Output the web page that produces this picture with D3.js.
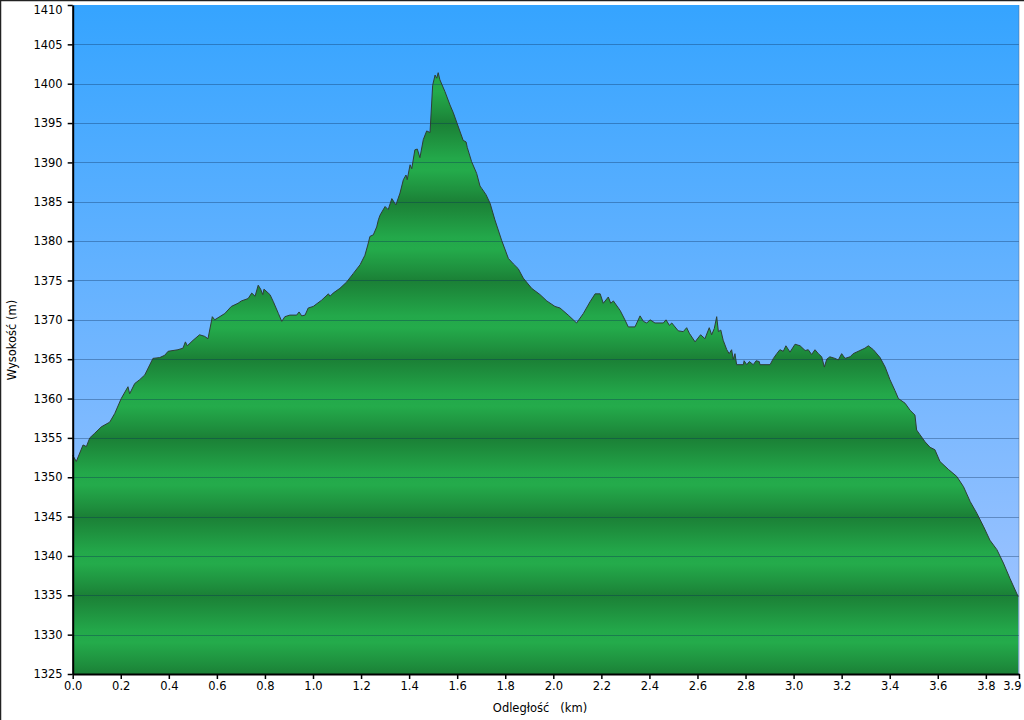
<!DOCTYPE html>
<html><head><meta charset="utf-8">
<script src="https://cdn.jsdelivr.net/npm/d3@7"></script>
<style>
body{margin:0;background:#fff}
svg{display:block}
text{font-family:"DejaVu Sans",Verdana,sans-serif}
</style>
</head><body>
<svg id="chart" width="1024" height="720"></svg>
<script>
// ---- data ----
const distanceKm = [0.000,0.015,0.043,0.057,0.071,0.092,0.119,0.154,0.175,0.202,0.230,0.237,0.258,0.279,0.300,0.334,0.362,0.383,0.397,0.438,0.459,0.469,0.477,0.501,0.528,0.549,0.563,0.581,0.591,0.633,0.660,0.688,0.702,0.730,
0.745,0.759,0.772,0.782,0.791,0.796,0.821,0.835,0.856,0.870,0.883,0.904,0.932,0.942,0.953,0.967,0.980,1.001,1.036,1.064,1.071,1.084,1.112,1.140,1.168,1.196,1.216,1.228,1.237,1.251,1.265,1.272,1.279,
1.300,1.313,1.328,1.345,1.362,1.376,1.387,1.392,1.404,1.411,1.424,1.434,1.445,1.459,1.473,1.487,1.498,1.508,1.515,1.521,1.528,1.549,1.570,1.584,1.605,1.625,1.637,1.642,1.660,1.681,1.695,1.702,1.720,1.737,1.757,1.785,1.813,1.834,1.854,1.875,1.910,1.945,1.973,
2.007,2.028,2.062,2.097,2.125,2.153,2.174,2.195,2.208,2.229,2.239,2.250,2.278,2.298,2.312,2.340,2.361,2.375,2.389,2.403,2.423,2.458,2.469,2.483,2.493,2.520,2.541,2.555,2.566,2.590,2.613,2.631,2.649,2.659,2.670,2.680,2.687,2.697,2.707,2.722,2.732,2.742,2.749,2.756,2.763,
2.791,2.794,2.805,2.816,2.832,2.844,2.857,2.860,2.902,2.916,2.930,2.943,2.957,2.968,2.985,3.006,3.027,3.048,3.061,3.075,3.089,3.103,3.117,3.128,3.138,3.151,3.172,3.186,3.200,3.214,3.235,3.248,3.276,3.297,3.311,3.332,3.360,3.381,3.401,3.422,3.436,
3.464,3.485,3.505,3.512,3.526,3.547,3.568,3.588,3.609,3.644,3.679,3.707,3.735,3.763,3.791,3.817,3.846,3.873,3.901,3.935];
const elevationM = [1352.8,1352.0,1354.1,1353.9,1355.0,1355.6,1356.4,1357.0,1358.1,1360.0,1361.5,1360.6,1361.9,1362.4,1363.0,1365.1,1365.2,1365.5,1366.0,1366.2,1366.4,1367.2,1366.7,1367.4,1368.1,1367.9,1367.6,1370.4,1370.0,1370.8,1371.7,1372.1,1372.4,1372.7,
1373.4,1373.0,1374.4,1373.9,1373.2,1373.9,1373.2,1372.3,1370.8,1369.8,1370.4,1370.6,1370.6,1371.0,1370.5,1370.6,1371.5,1371.7,1372.5,1373.3,1373.0,1373.4,1374.0,1374.8,1375.9,1377.0,1378.2,1379.5,1380.6,1380.8,1381.8,1382.7,1383.3,
1384.4,1384.0,1385.4,1384.6,1386.1,1387.8,1388.4,1387.8,1389.7,1389.2,1391.6,1391.7,1390.6,1392.9,1394.0,1393.8,1399.8,1401.1,1400.7,1401.4,1400.5,1399.0,1397.3,1396.3,1394.5,1392.8,1392.6,1391.9,1390.1,1388.6,1387.0,1386.7,1385.9,1384.8,1382.7,1380.1,1377.8,1377.1,1376.5,1375.3,1374.0,1373.2,1372.4,
1371.7,1371.5,1370.6,1369.6,1370.8,1372.3,1373.3,1373.3,1372.1,1372.9,1372.1,1372.4,1371.2,1370.0,1369.1,1369.1,1370.5,1369.8,1369.6,1370.0,1369.6,1369.6,1370.0,1369.3,1369.6,1368.6,1368.5,1369.0,1368.3,1367.2,1368.1,1367.6,1369.0,1368.1,1368.9,1370.4,1368.5,1368.7,1367.4,1366.2,1365.7,1366.2,1365.0,1365.7,1364.3,
1364.3,1364.8,1364.3,1364.7,1364.3,1364.8,1364.7,1364.3,1364.3,1365.1,1365.7,1366.2,1366.0,1366.7,1365.9,1366.9,1366.7,1366.1,1366.2,1365.6,1366.2,1365.7,1365.3,1364.0,1365.0,1365.3,1365.1,1364.9,1365.7,1365.1,1365.3,1365.7,1366.1,1366.4,1366.7,1366.2,1365.2,1364.0,1362.4,1361.0,1360.0,
1359.4,1358.5,1357.9,1356.0,1355.4,1354.5,1353.8,1353.5,1352.0,1351.0,1350.1,1348.8,1346.9,1345.4,1343.7,1342.0,1340.8,1339.1,1337.1,1334.8];
const yTickValues = [1325,1330,1335,1340,1345,1350,1355,1360,1365,1370,1375,1380,1385,1390,1395,1400,1405,1410];
const xTickValues = [0,0.2,0.4,0.6,0.8,1.0,1.2,1.4,1.6,1.8,2.0,2.2,2.4,2.6,2.8,3.0,3.2,3.4,3.6,3.8,3.938];
const xTickLabels = ["0.0","0.2","0.4","0.6","0.8","1.0","1.2","1.4","1.6","1.8","2.0","2.2","2.4","2.6","2.8","3.0","3.2","3.4","3.6","3.8","3.9"];
const xTitle = "Odległość   (km)";
const yTitle = "Wysokość (m)";

// ---- layout ----
const svg = d3.select("#chart");
const pL = 72.7, pR = 1019, pT = 5, pB = 674;
const x = d3.scaleLinear().domain([0, 3.938]).range([pL, pR]);
const y = d3.scaleLinear().domain([1325, 1410]).range([pB, pT]);
const data = distanceKm.map((d, i) => ({d, e: elevationM[i]}));

const defs = svg.append("defs");
const bg = defs.append("linearGradient").attr("id", "bg").attr("x1", 0).attr("y1", 0).attr("x2", 0).attr("y2", 1);
bg.append("stop").attr("offset", 0).attr("stop-color", "#35a4ff");
bg.append("stop").attr("offset", 1).attr("stop-color", "#a8c6ff");

const gr = defs.append("linearGradient").attr("id", "green")
  .attr("gradientUnits", "userSpaceOnUse").attr("spreadMethod", "repeat")
  .attr("x1", 0).attr("x2", 0).attr("y1", y(1335)).attr("y2", y(1325));
[[0, "#1b8036"], [0.12, "#1d8a3b"], [0.45, "#23a84a"], [0.6, "#24ab4b"], [0.88, "#1e8e3d"], [1, "#1b8036"]]
  .forEach(([o, c]) => gr.append("stop").attr("offset", o).attr("stop-color", c));

// frame lines
svg.append("line").attr("x1", 0).attr("x2", 1024).attr("y1", 0.5).attr("y2", 0.5).attr("stroke", "#222").attr("stroke-width", 1.5);
svg.append("line").attr("x1", 0.5).attr("x2", 0.5).attr("y1", 0).attr("y2", 720).attr("stroke", "#222").attr("stroke-width", 1.5);

// plot background
svg.append("rect").attr("x", pL).attr("y", pT).attr("width", pR - pL).attr("height", pB - pT).attr("fill", "url(#bg)");

// area
const area = d3.area().x(p => x(p.d)).y0(y(1325)).y1(p => y(p.e));
svg.append("path").datum(data).attr("d", area).attr("fill", "url(#green)");

// grid
svg.append("g").selectAll("line").data(yTickValues.filter(v => v > 1325 && v < 1410)).join("line")
  .attr("x1", pL).attr("x2", pR).attr("y1", v => Math.round(y(v)) + 0.5).attr("y2", v => Math.round(y(v)) + 0.5)
  .attr("stroke", "#0a2a55").attr("stroke-opacity", 0.35).attr("stroke-width", 1);

// outline
const line = d3.line().x(p => x(p.d)).y(p => y(p.e));
svg.append("path").datum(data).attr("d", line).attr("fill", "none").attr("stroke", "#2e3e36").attr("stroke-width", 1).attr("stroke-linejoin", "round");

// right edge
svg.append("line").attr("x1", pR).attr("x2", pR).attr("y1", pT).attr("y2", pB).attr("stroke", "#4a6a90").attr("stroke-opacity", 0.5);

// axes
const yAxis = d3.axisLeft(y).tickValues(yTickValues).tickSize(5).tickSizeOuter(0).tickPadding(5).tickFormat(d3.format("d"));
const gy = svg.append("g").attr("transform", `translate(${pL},0)`).call(yAxis);
const xAxis = d3.axisBottom(x).tickValues(xTickValues).tickSize(5).tickSizeOuter(0).tickPadding(3)
  .tickFormat((d, i) => xTickLabels[i]);
const gx = svg.append("g").attr("transform", `translate(0,${pB})`).call(xAxis);
[gx, gy].forEach(g => {
  g.select(".domain").attr("stroke", "#000").attr("stroke-width", 2);
  g.selectAll(".tick line").attr("stroke", "#000").attr("stroke-width", 1.5);
  g.selectAll(".tick text").attr("fill", "#000").style("font-size", "11.5px").style("font-family", '"DejaVu Sans",Verdana,sans-serif');
});
// keep edge labels inside the picture
gy.selectAll(".tick").filter(d => d === 1410).select("text").attr("dy", "0.32em").attr("y", 5);
gx.selectAll(".tick").filter(d => d === 3.938).select("text").attr("text-anchor", "end").attr("x", 2);

// titles
svg.append("text").attr("x", 540).attr("y", 712).attr("text-anchor", "middle")
  .style("font-size", "11.5px").style("white-space", "pre").attr("xml:space", "preserve").text(xTitle);
svg.append("text").attr("transform", `translate(16,340) rotate(-90)`).attr("text-anchor", "middle")
  .style("font-size", "11.5px").text(yTitle);
</script>
</body></html>
